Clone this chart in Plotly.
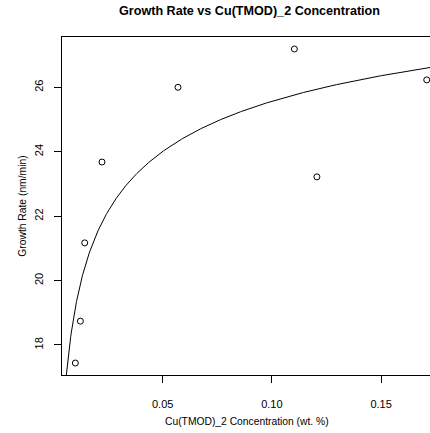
import numpy as np
import plotly.graph_objects as go

# Measured growth rate against precursor concentration
concentration = [0.0100, 0.0123, 0.0143, 0.0222, 0.0570, 0.1103, 0.1206, 0.1709]
growth_rate = [17.44, 18.74, 21.17, 23.68, 26.00, 27.19, 23.22, 26.23]

# Fitted trend: y = a - b * x^(-p)
fit_a = 33.80
fit_b = 4.63
fit_p = 0.25

x_ticks = [0.05, 0.10, 0.15]
x_tick_labels = ["0.05", "0.10", "0.15"]
y_ticks = [18, 20, 22, 24, 26]
y_tick_labels = ["18", "20", "22", "24", "26"]

x_range = [0.00389, 0.1724]
y_range = [17.068, 27.562]

FONT = "Liberation Sans, Arial, Helvetica, sans-serif"

x_fit = np.linspace(x_range[0], x_range[1], 800)
y_fit = fit_a - fit_b * x_fit ** (-fit_p)

fig = go.Figure()
fig.add_trace(go.Scatter(
    x=x_fit, y=y_fit, mode="lines",
    line=dict(color="black", width=1),
    hoverinfo="skip", showlegend=False,
))
fig.add_trace(go.Scatter(
    x=concentration, y=growth_rate, mode="markers",
    marker=dict(symbol="circle-open", size=6, color="black", line=dict(width=1)),
    showlegend=False,
))

axis_common = dict(
    showgrid=False, zeroline=False, showline=True, linecolor="black", linewidth=1,
    ticks="outside", ticklen=7, tickwidth=1, tickcolor="black",
    tickfont=dict(family=FONT, size=11, color="black"),
)

fig.update_xaxes(
    range=x_range, tickvals=x_ticks, ticktext=x_tick_labels, mirror=True,
    ticklabelstandoff=12, **axis_common,
)
fig.update_yaxes(
    range=y_range, tickvals=y_ticks, ticktext=y_tick_labels, mirror=False,
    tickangle=-90, ticklabelstandoff=7, **axis_common,
)

fig.update_layout(
    width=430, height=433,
    margin=dict(l=62, r=0, t=37, b=58, pad=0),
    paper_bgcolor="white", plot_bgcolor="white",
    annotations=[
        dict(text="<b>Growth Rate vs Cu(TMOD)_2 Concentration</b>",
             xref="paper", yref="paper", x=0.509, y=1.077,
             xanchor="center", yanchor="middle", showarrow=False,
             font=dict(family=FONT, size=12.6, color="black")),
        dict(text="Cu(TMOD)_2 Concentration (wt. %)",
             xref="paper", yref="paper", x=0.503, y=-0.139,
             xanchor="center", yanchor="middle", showarrow=False,
             font=dict(family=FONT, size=10.3, color="black")),
        dict(text="Growth Rate (nm/min)",
             xref="paper", yref="paper", x=-0.1095, y=0.5,
             xanchor="center", yanchor="middle", showarrow=False, textangle=-90,
             font=dict(family=FONT, size=10.3, color="black")),
    ],
)

fig.write_html("out.html")
